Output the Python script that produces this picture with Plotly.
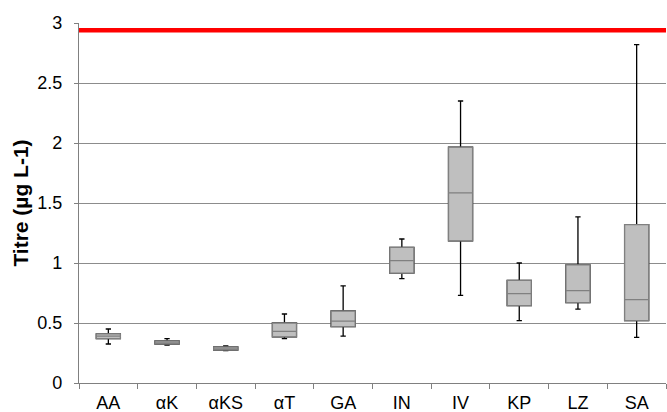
import plotly.graph_objects as go

categories = ["AA", "αK", "αKS", "αT", "GA", "IN", "IV", "KP", "LZ", "SA"]
upper = [0.45, 0.37, 0.31, 0.575, 0.81, 1.20, 2.35, 1.00, 1.385, 2.82]
q3 = [0.41, 0.35, 0.30, 0.50, 0.60, 1.13, 1.965, 0.855, 0.985, 1.32]
median = [0.39, 0.335, 0.285, 0.43, 0.515, 1.02, 1.585, 0.745, 0.77, 0.695]
q1 = [0.37, 0.325, 0.275, 0.385, 0.47, 0.915, 1.185, 0.645, 0.67, 0.52]
lower = [0.325, 0.315, 0.27, 0.37, 0.39, 0.87, 0.73, 0.52, 0.615, 0.38]
limit_value = 2.94
y_ticks = [0, 0.5, 1, 1.5, 2, 2.5, 3]
y_tick_labels = ["0", "0.5", "1", "1.5", "2", "2.5", "3"]

fig = go.Figure()
# whiskers (black)
fig.add_trace(go.Box(
    x=categories, q1=q1, median=median, q3=q3,
    lowerfence=lower, upperfence=upper,
    line=dict(color="black", width=1.3), fillcolor="#BFBFBF",
    whiskerwidth=0.22, showlegend=False, hoverinfo="skip",
))
# boxes (gray outline)
fig.add_trace(go.Box(
    x=categories, q1=q1, median=median, q3=q3,
    lowerfence=q1, upperfence=q3,
    line=dict(color="#808080", width=1.3), fillcolor="#BFBFBF",
    whiskerwidth=0, showlegend=False, hoverinfo="skip",
))

fig.add_shape(type="line", xref="paper", yref="y", x0=0, x1=1,
              y0=limit_value, y1=limit_value,
              line=dict(color="#FF0000", width=4.5))

fig.update_layout(
    width=667, height=412,
    margin=dict(l=79, r=1, t=23, b=29),
    paper_bgcolor="white", plot_bgcolor="white",
    boxmode="overlay", boxgap=0.59, boxgroupgap=0,
    font=dict(family="Liberation Sans, Arial, sans-serif", size=18, color="black"),
)
fig.update_xaxes(
    type="category", showline=True, linecolor="#808080", linewidth=1.3,
    ticks="outside", tickson="boundaries", ticklen=5, tickcolor="#808080",
    ticklabelstandoff=3,
    showgrid=False, tickfont=dict(size=18), automargin=False,
)
fig.update_yaxes(
    range=[0, 3], tickvals=y_ticks, ticktext=y_tick_labels,
    showline=True, linecolor="#808080", linewidth=1.3,
    ticks="outside", ticklen=4, tickcolor="#808080", ticklabelstandoff=8,
    showgrid=True, gridcolor="#8C8C8C", gridwidth=1.2, zeroline=False,
    title=dict(text="<b>Titre (µg L-1)</b>", font=dict(size=21), standoff=2),
    tickfont=dict(size=18), automargin=False,
)

fig.write_html("out.html", config={"displayModeBar": False})

with open("out.html", "r", encoding="utf-8") as f:
    html = f.read()
html = html.replace("<head>", "<head><style>html,body{margin:0;padding:0;}</style>", 1)
with open("out.html", "w", encoding="utf-8") as f:
    f.write(html)
